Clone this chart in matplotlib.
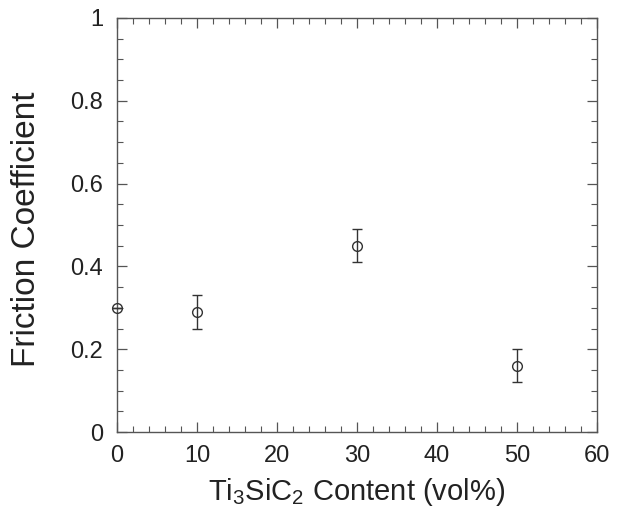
import matplotlib.pyplot as plt
from matplotlib.ticker import MultipleLocator

plt.rcParams['font.family'] = ['Liberation Sans', 'DejaVu Sans']
plt.rcParams['mathtext.default'] = 'regular'

# Friction coefficient vs Ti3SiC2 content
content = [0, 10, 30, 50]
friction = [0.30, 0.29, 0.45, 0.16]
friction_err = [0.0, 0.04, 0.04, 0.04]

x_ticks = [0, 10, 20, 30, 40, 50, 60]
y_ticks = [0, 0.2, 0.4, 0.6, 0.8, 1]
y_tick_labels = ['0', '0.2', '0.4', '0.6', '0.8', '1']

txt = '#222222'
edge = '#555555'

fig = plt.figure(figsize=(6.29, 5.27), dpi=100)
ax = fig.add_axes([0.186, 0.180, 0.763, 0.786])

ax.errorbar(content, friction, yerr=friction_err, fmt='o', ms=7,
            mfc='none', mec='#333333', mew=1.0, ecolor='#333333',
            elinewidth=1.0, capsize=3.5, capthick=1.0, clip_on=False, zorder=3)

ax.set_xlim(0, 60)
ax.set_ylim(0, 1)
ax.set_xticks(x_ticks)
ax.set_yticks(y_ticks)
ax.set_yticklabels(y_tick_labels)
ax.xaxis.set_minor_locator(MultipleLocator(2))
ax.yaxis.set_minor_locator(MultipleLocator(0.05))

ax.tick_params(which='both', direction='in', top=True, right=True,
               color=edge, labelsize=17, labelcolor=txt)
ax.tick_params(axis='x', which='major', pad=9)
ax.tick_params(axis='y', which='major', pad=10)
ax.tick_params(which='major', length=7, width=0.9)
ax.tick_params(which='minor', length=4, width=0.8)
for s in ax.spines.values():
    s.set_color(edge)
    s.set_linewidth(1.0)

ax.set_xlabel('Ti$_3$SiC$_2$ Content (vol%)', fontsize=21, color=txt)
ax.set_ylabel('Friction Coefficient', fontsize=24, color=txt)
ax.xaxis.set_label_coords(0.5, -0.105)
ax.yaxis.set_label_coords(-0.156, 0.49)

fig.savefig('out.png', dpi=100)
